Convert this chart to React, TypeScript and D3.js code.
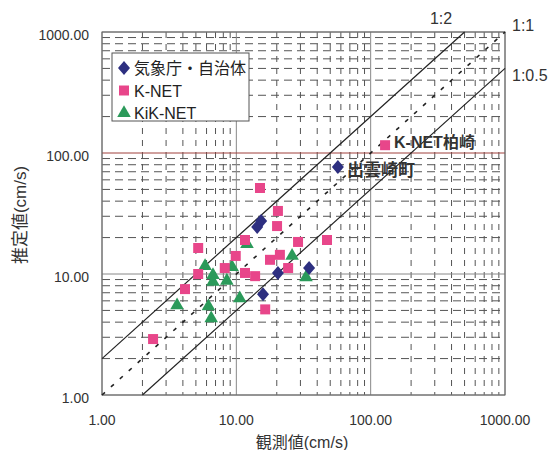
import React from 'react'
import * as d3 from 'd3'

// observed (x) / estimated (y) PGV values, cm/s
const jmaObs = [57, 14.3, 15.3, 15.8, 20.4, 34.8]
const jmaEst = [76.6, 24.5, 27.4, 6.8, 10.2, 11.2]

const knetObs = [128, 15.0, 20.4, 20.1, 11.6, 5.2, 9.9, 21.1, 17.8, 8.2, 11.6, 13.8, 5.2, 4.15, 2.4, 16.4, 28.8, 47.3, 24.3]
const knetEst = [116, 51.4, 33.2, 24.9, 19.1, 16.4, 14.1, 14.4, 13.1, 11.2, 10.2, 9.6, 10.0, 7.5, 2.9, 5.1, 18.4, 19.1, 11.2]

const kiknetObs = [3.62, 5.85, 6.7, 6.7, 8.5, 9.3, 12.0, 10.6, 6.2, 6.5, 26, 33]
const kiknetEst = [5.5, 11.6, 9.8, 8.6, 8.8, 11.4, 17.7, 6.3, 5.4, 4.3, 14.1, 9.4]

const majorTicks = [1, 10, 100, 1000]
const tickLabels = ['1.00', '10.00', '100.00', '1000.00']
const ratios = [2, 1, 0.5]
const ratioLabels = ['1:2', '1:1', '1:0.5']
const seriesNames = ['気象庁・自治体', 'K-NET', 'KiK-NET']

const width = 552
const height = 450
const left = 102
const right = 505
const top = 32
const bottom = 395

const font = '"Liberation Sans", Arial, "Noto Sans CJK JP", sans-serif'
const navy = '#2d2f80'
const pink = '#e8468a'
const green = '#2b9a5a'

const x = d3.scaleLog().domain([1, 1000]).range([left, right])
const y = d3.scaleLog().domain([1, 1000]).range([bottom, top])

const minor = [1, 10, 100].flatMap(d => d3.range(2, 10).map(k => d * k))

// wider diamond than d3's default
const diamondPath = 'M0,-7L6,0L0,7L-6,0Z'
const square = d3.symbol().type(d3.symbolSquare).size(100)
const triangle = d3.symbol().type(d3.symbolTriangle).size(80)

const App = () => {
  const ratioLine = (r: number) => {
    const x0 = Math.max(1, 1 / r)
    const x1 = Math.min(1000, 1000 / r)
    return { x1: x(x0), y1: y(x0 * r), x2: x(x1), y2: y(x1 * r) }
  }

  const symbols = [diamondPath, square() as string, triangle() as string]
  const colors = [navy, pink, green]

  return (
    <svg width={width} height={height} style={{ position: 'absolute', left: 0, top: 0, background: '#fff' }} fontFamily={font}>
      {/* minor grid */}
      {minor.map(v => (
        <line key={'mx' + v} x1={x(v)} x2={x(v)} y1={top} y2={bottom} stroke="#555" strokeWidth={1} strokeDasharray="6,6" />
      ))}
      {minor.map(v => (
        <line key={'my' + v} x1={left} x2={right} y1={y(v)} y2={y(v)} stroke="#555" strokeWidth={1} strokeDasharray="8,5" />
      ))}
      {/* major grid */}
      {majorTicks.map(v => (
        <line key={'Mx' + v} x1={x(v)} x2={x(v)} y1={top} y2={bottom} stroke="#888" strokeWidth={1} />
      ))}
      {majorTicks.map(v => (
        <line key={'My' + v} x1={left} x2={right} y1={y(v)} y2={y(v)} stroke={v === 100 ? '#a0403c' : '#888'} strokeWidth={1} />
      ))}
      <rect x={left} y={top} width={right - left} height={bottom - top} fill="none" stroke="#666" strokeWidth={1} />

      {/* ratio lines */}
      {ratios.map(r => {
        const l = ratioLine(r)
        return (
          <line key={'r' + r} {...l} stroke="#222" strokeWidth={r === 1 ? 1.6 : 1.2} strokeDasharray={r === 1 ? '4,8' : undefined} />
        )
      })}
      <text x={441} y={24} fontSize={16} fill="#333" textAnchor="middle">{ratioLabels[0]}</text>
      <text x={512} y={31} fontSize={16} fill="#333">{ratioLabels[1]}</text>
      <text x={512} y={81} fontSize={16} fill="#333">{ratioLabels[2]}</text>

      {/* points */}
      {kiknetObs.map((v, i) => (
        <path key={'g' + i} d={symbols[2]} transform={`translate(${x(v)},${y(kiknetEst[i])})`} fill={green} />
      ))}
      {knetObs.map((v, i) => (
        <path key={'p' + i} d={symbols[1]} transform={`translate(${x(v)},${y(knetEst[i])})`} fill={pink} />
      ))}
      {jmaObs.map((v, i) => (
        <path key={'n' + i} d={symbols[0]} transform={`translate(${x(v)},${y(jmaEst[i])})`} fill={navy} />
      ))}

      {/* annotations */}
      <text x={394} y={148} fontSize={16} fontWeight="bold" fill="#333">K-NET柏崎</text>
      <text x={347} y={176} fontSize={17} fontWeight="bold" fill="#333">出雲崎町</text>

      {/* legend */}
      <rect x={112} y={53} width={137} height={68} fill="#fff" stroke="#555" strokeWidth={1} />
      {seriesNames.map((name, i) => {
        const cy = 68 + i * 22.5
        return (
          <g key={name}>
            <path d={symbols[i]} transform={`translate(124,${cy})`} fill={colors[i]} />
            <text x={134} y={cy + 6} fontSize={16} fill="#222">{name}</text>
          </g>
        )
      })}

      {/* axis tick labels */}
      {majorTicks.map((v, i) => (
        <text key={'tx' + v} x={x(v)} y={425} fontSize={14} fill="#333" textAnchor="middle">{tickLabels[i]}</text>
      ))}
      {majorTicks.map((v, i) => (
        <text key={'ty' + v} x={89} y={y(v) + 8} fontSize={14} fill="#333" textAnchor="end">{tickLabels[i]}</text>
      ))}

      {/* axis titles */}
      <text x={302} y={448} fontSize={16} fill="#333" textAnchor="middle">観測値(cm/s)</text>
      <text transform="translate(26,215) rotate(-90)" fontSize={17} fill="#333" textAnchor="middle">推定値(cm/s)</text>
    </svg>
  )
}

export default App
